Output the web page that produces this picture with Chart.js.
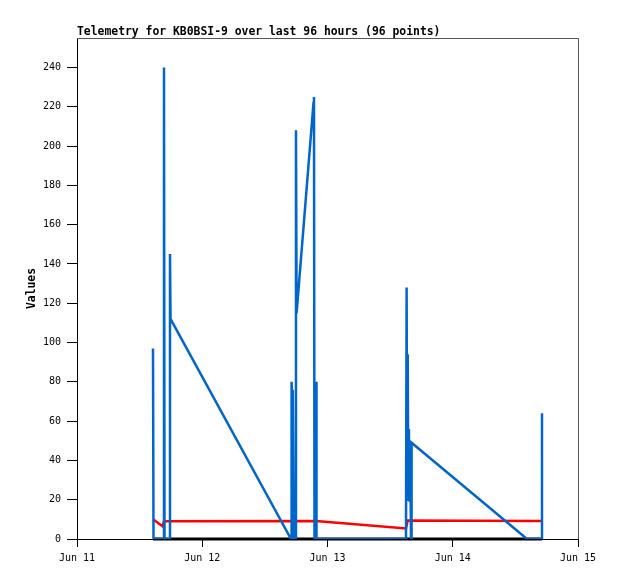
<!DOCTYPE html>
<html>
<head>
<meta charset="utf-8">
<script src="https://cdn.jsdelivr.net/npm/chart.js@4"></script>
<style>
  body { margin: 0; background: #fff; }
  canvas { display: block; }
</style>
</head>
<body>
<canvas id="telemetryChart" width="618" height="579"></canvas>
<script>
// hours since Jun 11 00:00
const dayLabels = ["Jun 11", "Jun 12", "Jun 13", "Jun 14", "Jun 15"];

const blueHours = [14.56, 14.66, 16.57, 16.67, 16.77, 17.72, 17.82, 17.92, 41.01, 41.12, 41.24, 41.35,
  41.54, 41.87, 41.96, 42.08, 45.32, 45.41, 45.51, 45.70, 45.80, 45.89, 63.04, 63.16, 63.27, 63.37,
  63.48, 63.60, 63.71, 63.85, 64.00, 64.11, 86.23, 89.01, 89.10];
const blueValues = [97, 0, 0, 240, 0, 0, 145, 112, 0, 80, 67, 76,
  0, 0, 208, 115, 222, 225, 0, 0, 80, 0, 0, 128, 20, 94,
  20, 56, 19, 48, 0, 49, 0, 0, 64];

const redHours = [14.56, 16.38, 16.67, 45.80, 63.04, 63.37, 89.10];
const redValues = [10, 6.5, 9, 9.2, 5.4, 9.4, 9.2];

const blackHours = [14.56, 89.10];
const blackValues = [0, 0];

function toPoints(hours, values) {
  return hours.map((h, i) => ({ x: h, y: values[i] }));
}

const monoFont = "'DejaVu Sans Mono', monospace";

const frameAndTitle = {
  id: 'frameAndTitle',
  afterDraw(chart) {
    const ctx = chart.ctx;
    const a = chart.chartArea;
    ctx.save();
    ctx.strokeStyle = '#555';
    ctx.lineWidth = 1;
    ctx.beginPath();
    ctx.moveTo(a.left, a.top + 0.5);
    ctx.lineTo(a.right + 0.5, a.top + 0.5);
    ctx.lineTo(a.right + 0.5, a.bottom);
    ctx.stroke();
    ctx.fillStyle = '#000';
    ctx.font = "bold 11.4px " + monoFont;
    ctx.textAlign = 'left';
    ctx.textBaseline = 'alphabetic';
    ctx.fillText("Telemetry for KB0BSI-9 over last 96 hours (96 points)", 77, 35);
    ctx.translate(35, (a.top + a.bottom) / 2);
    ctx.rotate(-Math.PI / 2);
    ctx.textAlign = 'center';
    ctx.fillText("Values", 0, 0);
    ctx.restore();
  }
};

new Chart(document.getElementById("telemetryChart"), {
  type: 'line',
  data: {
    datasets: [
      { data: toPoints(blueHours, blueValues), borderColor: '#0066cc', borderWidth: 2.5 },
      { data: toPoints(redHours, redValues), borderColor: '#ff0000', borderWidth: 2.5 },
      { data: toPoints(blackHours, blackValues), borderColor: '#000000', borderWidth: 3, clip: false }
    ]
  },
  options: {
    responsive: false,
    animation: false,
    layout: { padding: { left: 0, right: 40, top: 38, bottom: 0 } },
    elements: { point: { radius: 0 }, line: { tension: 0, borderCapStyle: 'butt' } },
    plugins: { legend: { display: false }, tooltip: { enabled: false } },
    scales: {
      x: {
        type: 'linear',
        min: 0,
        max: 96,
        afterFit(scale) { scale.height = 40; },
        afterBuildTicks(scale) { scale.ticks = dayLabels.map((_, i) => ({ value: i * 24 })); },
        ticks: {
          stepSize: 24,
          maxRotation: 0,
          color: '#000',
          padding: 5,
          font: { family: monoFont, size: 10 },
          callback: (v) => dayLabels[Math.round(v / 24)]
        },
        grid: { display: true, drawOnChartArea: false, drawTicks: true, tickLength: 8, color: '#000' },
        border: { display: true, color: '#000', width: 1 }
      },
      y: {
        min: 0,
        max: 255,
        afterFit(scale) { scale.width = 77; },
        afterBuildTicks(scale) { scale.ticks = scale.ticks.filter(t => t.value % 20 === 0); },
        ticks: {
          stepSize: 20,
          color: '#000',
          padding: 6,
          font: { family: monoFont, size: 10 }
        },
        grid: { display: true, drawOnChartArea: false, drawTicks: true, tickLength: 10, color: '#000' },
        border: { display: true, color: '#000', width: 1 }
      }
    }
  },
  plugins: [frameAndTitle]
});
</script>
</body>
</html>
